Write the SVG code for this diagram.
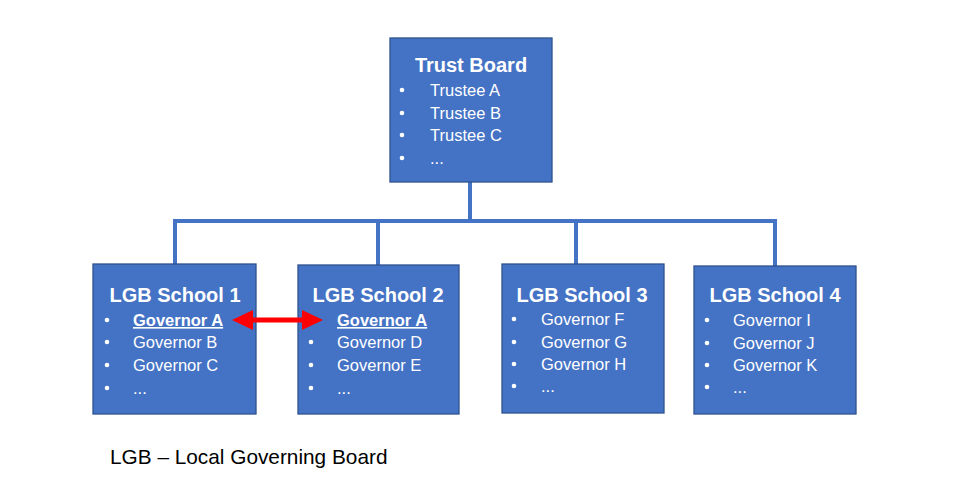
<svg xmlns="http://www.w3.org/2000/svg" width="961" height="484" viewBox="0 0 961 484">
<defs>
<style>
.box{fill:#4472C4;stroke:#2F528F;stroke-width:1.3}
.title{font-family:"Liberation Sans",Arial,sans-serif;font-weight:bold;font-size:20px;fill:#fff;text-anchor:middle}
.item{font-family:"Liberation Sans",Arial,sans-serif;font-size:16.5px;fill:#fff}
.bul{fill:#fff}
.conn{fill:none;stroke:#4472C4;stroke-width:4}
.foot{font-family:"Liberation Sans",Arial,sans-serif;font-size:20.8px;fill:#000}
</style>
</defs>
<rect width="961" height="484" fill="#fff"/>
<g id="connectors">
<path class="conn" d="M470,182 V221 M175,264 V221 H775 V266 M378,221 V265 M576,221 V264"/>
</g>
<g id="trust-board">
<rect class="box" x="390" y="38" width="162" height="144"/>
<text class="title" x="471" y="72">Trust Board</text>
<g class="bul"><circle cx="402" cy="90" r="2.3"/><circle cx="402" cy="113" r="2.3"/><circle cx="402" cy="135" r="2.3"/><circle cx="402" cy="158" r="2.3"/></g>
<text class="item" x="430" y="96">Trustee A</text>
<text class="item" x="430" y="119">Trustee B</text>
<text class="item" x="430" y="141">Trustee C</text>
<text class="item" x="430" y="164">...</text>
</g>
<g id="lgb-school-1">
<rect class="box" x="93" y="264" width="163" height="150"/>
<text class="title" x="175" y="302">LGB School 1</text>
<g class="bul"><circle cx="107" cy="320" r="2.3"/><circle cx="107" cy="342" r="2.3"/><circle cx="107" cy="365" r="2.3"/><circle cx="107" cy="388" r="2.3"/></g>
<text class="item" x="133" y="326" font-weight="bold" text-decoration="underline">Governor A</text>
<text class="item" x="133" y="348">Governor B</text>
<text class="item" x="133" y="371">Governor C</text>
<text class="item" x="133" y="394">...</text>
</g>
<g id="lgb-school-2">
<rect class="box" x="298" y="265" width="161" height="149"/>
<text class="title" x="378" y="302">LGB School 2</text>
<g class="bul"><circle cx="311" cy="320" r="2.3"/><circle cx="311" cy="342" r="2.3"/><circle cx="311" cy="365" r="2.3"/><circle cx="311" cy="388" r="2.3"/></g>
<text class="item" x="337" y="326" font-weight="bold" text-decoration="underline">Governor A</text>
<text class="item" x="337" y="348">Governor D</text>
<text class="item" x="337" y="371">Governor E</text>
<text class="item" x="337" y="394">...</text>
</g>
<g id="lgb-school-3">
<rect class="box" x="502" y="264" width="162" height="149"/>
<text class="title" x="582" y="302">LGB School 3</text>
<g class="bul"><circle cx="514" cy="319" r="2.3"/><circle cx="514" cy="342" r="2.3"/><circle cx="514" cy="364" r="2.3"/><circle cx="514" cy="386" r="2.3"/></g>
<text class="item" x="541" y="325">Governor F</text>
<text class="item" x="541" y="348">Governor G</text>
<text class="item" x="541" y="370">Governor H</text>
<text class="item" x="541" y="392">...</text>
</g>
<g id="lgb-school-4">
<rect class="box" x="694" y="266" width="162" height="148"/>
<text class="title" x="775" y="302">LGB School 4</text>
<g class="bul"><circle cx="707" cy="320" r="2.3"/><circle cx="707" cy="343" r="2.3"/><circle cx="707" cy="365" r="2.3"/><circle cx="707" cy="387" r="2.3"/></g>
<text class="item" x="733" y="326">Governor I</text>
<text class="item" x="733" y="349">Governor J</text>
<text class="item" x="733" y="371">Governor K</text>
<text class="item" x="733" y="393">...</text>
</g>
<g id="red-arrow" fill="#FF0000">
<rect x="250" y="317.5" width="56" height="5"/>
<polygon points="232,320 253,310 253,330"/>
<polygon points="323,320 302,310 302,330"/>
</g>
<text class="foot" x="110" y="464">LGB – Local Governing Board</text>
</svg>
